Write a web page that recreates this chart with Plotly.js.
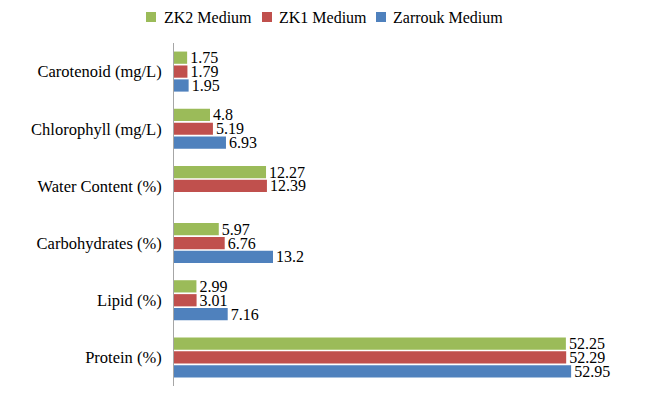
<!DOCTYPE html>
<html>
<head>
<meta charset="utf-8">
<script src="https://cdn.plot.ly/plotly-3.0.1.min.js"></script>
<style>html,body{margin:0;padding:0;background:#fff;}#chart{width:650px;height:413px;}</style>
</head>
<body>
<div id="chart"></div>
<script>
var categories = ["Protein (%)", "Lipid (%)", "Carbohydrates (%)", "Water Content (%)", "Chlorophyll (mg/L)", "Carotenoid (mg/L)"];
var zarroukValues = [52.95, 7.16, 13.2, null, 6.93, 1.95];
var zk1Values = [52.29, 3.01, 6.76, 12.39, 5.19, 1.79];
var zk2Values = [52.25, 2.99, 5.97, 12.27, 4.8, 1.75];
var seriesNames = ["Zarrouk Medium", "ZK1 Medium", "ZK2 Medium"];
var seriesColors = ["#4F81BD", "#C0504D", "#9BBB59"];
var seriesValues = [zarroukValues, zk1Values, zk2Values];

var font = "Times New Roman";
var W = 650, H = 413;
var M = { l: 174, r: 26, t: 43, b: 27 };
var plotW = W - M.l - M.r, plotH = H - M.t - M.b;
function px2x(px) { return (px - M.l) / plotW; }
function py2y(py) { return (H - M.b - py) / plotH; }

var traces = seriesValues.map(function (vals, i) {
  return {
    type: "bar",
    orientation: "h",
    name: seriesNames[i],
    y: categories,
    x: vals,
    marker: { color: seriesColors[i] },
    text: vals.map(function (v) { return v === null ? "" : String(v); }),
    textposition: "outside",
    constraintext: "none",
    textfont: { family: font, size: 16, color: "#000" },
    cliponaxis: false,
    hoverinfo: "x+name",
    showlegend: false
  };
});

// custom compact legend (order: ZK2, ZK1, Zarrouk), built from series arrays
var legendOrder = [2, 1, 0];
var legendSquareLeft = [146, 262, 376];
var legendTextLeft = [162, 277, 391];
var legendY = 17;
var shapes = [], annotations = [];
legendOrder.forEach(function (si, k) {
  shapes.push({
    type: "rect", xref: "paper", yref: "paper",
    x0: px2x(legendSquareLeft[k]), x1: px2x(legendSquareLeft[k] + 10),
    y0: py2y(legendY + 5), y1: py2y(legendY - 5),
    fillcolor: seriesColors[si], line: { width: 0 }
  });
  annotations.push({
    xref: "paper", yref: "paper",
    x: px2x(legendTextLeft[k]), y: py2y(legendY),
    xanchor: "left", yanchor: "middle",
    text: seriesNames[si], showarrow: false,
    font: { family: font, size: 16, color: "#000" }
  });
});

var layout = {
  width: W,
  height: H,
  margin: M,
  paper_bgcolor: "#fff",
  plot_bgcolor: "#fff",
  barmode: "group",
  bargap: 0.27,
  bargroupgap: 0.12,
  font: { family: font, size: 16, color: "#000" },
  showlegend: false,
  shapes: shapes,
  annotations: annotations,
  xaxis: {
    range: [0, 60],
    showgrid: false,
    zeroline: false,
    showticklabels: false,
    showline: false,
    ticks: ""
  },
  yaxis: {
    type: "category",
    categoryorder: "array",
    categoryarray: categories,
    showline: true,
    linecolor: "#a6a6a6",
    linewidth: 1,
    showgrid: false,
    ticks: "",
    ticklabelstandoff: 8,
    tickfont: { family: font, size: 16.5, color: "#000" }
  }
};

Plotly.newPlot("chart", traces, layout, { displayModeBar: false, staticPlot: true });
</script>
</body>
</html>
